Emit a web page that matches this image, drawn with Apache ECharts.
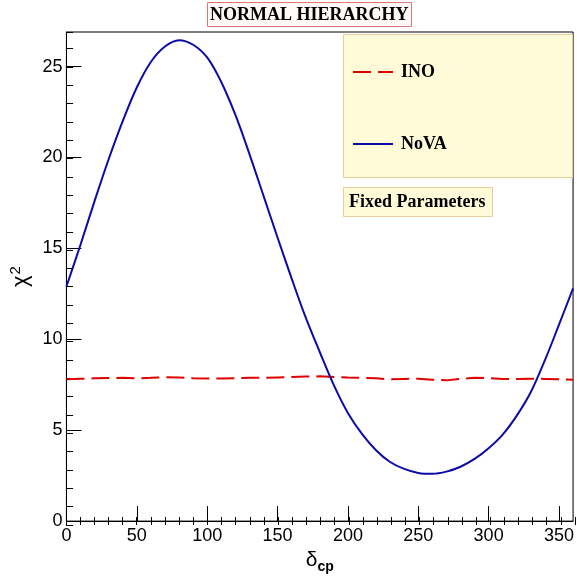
<!DOCTYPE html>
<html>
<head>
<meta charset="utf-8">
<title>Normal hierarchy chi2</title>
<script src="https://cdn.jsdelivr.net/npm/echarts@6/dist/echarts.min.js"></script>
<style>
  html, body { margin: 0; padding: 0; background: #fff; }
  #chart { width: 577px; height: 579px; }
</style>
</head>
<body>
<div id="chart"></div>
<script>
// delta_cp in degrees
const deltaCp = [0, 10, 20, 30, 40, 50, 60, 70, 80, 90, 100, 110, 120, 130, 140, 150, 160, 170, 180,
  190, 200, 210, 220, 230, 240, 250, 260, 270, 280, 290, 300, 310, 320, 330, 340, 350, 360]

const chi2Nova = [12.9, 15.2, 17.6, 19.9, 22.0, 23.85, 25.25, 26.1, 26.45, 26.2, 25.5, 24.15, 22.35, 20.2, 17.9, 15.6, 13.35, 11.2, 9.3,
  7.48, 5.95, 4.8, 3.9, 3.25, 2.87, 2.65, 2.6, 2.72, 2.99, 3.42, 4.01, 4.76, 5.8, 7.1, 8.85, 10.8, 12.8]

const chi2Ino = [7.80, 7.83, 7.85, 7.87, 7.88, 7.85, 7.88, 7.92, 7.90, 7.86, 7.84, 7.84, 7.86, 7.88, 7.88, 7.90, 7.92, 7.95, 7.96,
  7.93, 7.90, 7.88, 7.85, 7.80, 7.82, 7.83, 7.78, 7.74, 7.82, 7.88, 7.86, 7.82, 7.82, 7.83, 7.82, 7.80, 7.78]

const seriesNames = ['INO', 'NoVA']

const chart = echarts.init(document.getElementById('chart'))

const gridBox = { left: 66, right: 2, top: 32, bottom: 54 }
const serif = 'Liberation Serif'
const sans = 'Liberation Sans'

const option = {
  animation: false,
  title: [
    {
      text: 'NORMAL HIERARCHY',
      left: 207,
      top: 2,
      padding: [3, 3, 2, 3],
      backgroundColor: '#fffaf7',
      borderColor: '#d9777a',
      borderWidth: 1,
      textStyle: { fontFamily: serif, fontWeight: 'bold', fontSize: 18, lineHeight: 20, color: '#000' }
    },
    {
      text: 'Fixed Parameters',
      left: 343,
      top: 187,
      padding: [5, 7, 5, 6],
      backgroundColor: '#fffbd9',
      borderColor: '#e9cf9e',
      borderWidth: 1,
      textStyle: { fontFamily: serif, fontWeight: 'bold', fontSize: 18, lineHeight: 20, color: '#000' }
    }
  ],
  graphic: [
    {
      type: 'rect',
      z: 3,
      shape: { x: 343.5, y: 34.5, width: 229, height: 143 },
      style: { fill: '#fffbd9', stroke: '#e9cf9e', lineWidth: 1 }
    }
  ],
  legend: {
    data: seriesNames,
    orient: 'vertical',
    left: 347,
    top: 58,
    itemWidth: 40,
    itemHeight: 18,
    itemGap: 54,
    z: 5,
    itemStyle: { color: 'rgba(0,0,0,0)', borderColor: 'rgba(0,0,0,0)', borderWidth: 0 },
    textStyle: { fontFamily: serif, fontWeight: 'bold', fontSize: 18, color: '#000', padding: [0, 0, 0, 3] }
  },
  grid: [
    Object.assign({ show: true, borderColor: '#000', borderWidth: 1 }, gridBox),
    Object.assign({ show: false }, gridBox)
  ],
  xAxis: [
    {
      type: 'value',
      gridIndex: 0,
      min: 0,
      max: 360,
      interval: 50,
      name: '{d|δ}{s|cp}',
      nameLocation: 'middle',
      nameGap: 26,
      nameTextStyle: {
        rich: {
          d: { fontFamily: sans, fontSize: 21, color: '#000', verticalAlign: 'top' },
          s: { fontFamily: sans, fontSize: 14, fontWeight: 'bold', color: '#000', verticalAlign: 'bottom', padding: [10, 0, 0, 0] }
        }
      },
      axisLine: { lineStyle: { color: '#000', width: 1 } },
      axisTick: { inside: true, length: 15, lineStyle: { color: '#000' } },
      axisLabel: { fontFamily: sans, fontSize: 18, color: '#000', margin: 6, showMaxLabel: false },
      splitLine: { show: false }
    },
    {
      type: 'value',
      gridIndex: 1,
      min: 0,
      max: 360,
      interval: 10,
      axisLine: { show: false },
      axisTick: { inside: true, length: 8, lineStyle: { color: '#000' } },
      axisLabel: { show: false },
      splitLine: { show: false }
    }
  ],
  yAxis: [
    {
      type: 'value',
      gridIndex: 0,
      min: 0,
      max: 26.9,
      interval: 5,
      name: '{c|χ}{p|2}',
      nameLocation: 'middle',
      nameGap: 30,
      nameTextStyle: {
        rich: {
          c: { fontFamily: sans, fontSize: 22, color: '#000' },
          p: { fontFamily: sans, fontSize: 15, color: '#000', verticalAlign: 'top', padding: [0, 0, 10, 1] }
        }
      },
      axisLine: { lineStyle: { color: '#000', width: 1 } },
      axisTick: { inside: true, length: 15, lineStyle: { color: '#000' } },
      axisLabel: { fontFamily: sans, fontSize: 18, color: '#000', margin: 4, showMaxLabel: false },
      splitLine: { show: false }
    },
    {
      type: 'value',
      gridIndex: 1,
      min: 0,
      max: 26.9,
      interval: 1,
      axisLine: { show: false },
      axisTick: { inside: true, length: 7, lineStyle: { color: '#000' } },
      axisLabel: { show: false },
      splitLine: { show: false }
    }
  ],
  series: [
    {
      name: 'INO',
      type: 'line',
      xAxisIndex: 0,
      yAxisIndex: 0,
      symbol: 'none',
      data: deltaCp.map((d, i) => [d, chi2Ino[i]]),
      lineStyle: { color: '#e00000', width: 2, type: [18, 7] },
      itemStyle: { color: '#e00000' }
    },
    {
      name: 'NoVA',
      type: 'line',
      xAxisIndex: 0,
      yAxisIndex: 0,
      symbol: 'none',
      smooth: 0.35,
      data: deltaCp.map((d, i) => [d, chi2Nova[i]]),
      lineStyle: { color: '#0b0ba6', width: 2 },
      itemStyle: { color: '#0b0ba6' }
    }
  ]
}

chart.setOption(option)

window.addEventListener('resize', () => {
  chart.resize()
})
</script>
</body>
</html>
